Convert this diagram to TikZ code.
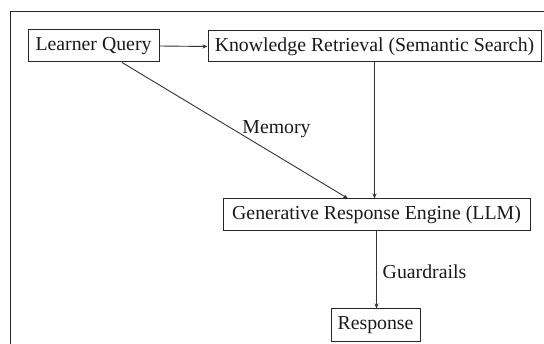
\documentclass[tikz,border=0pt]{standalone}
\usepackage{fontspec}
\setmainfont{Liberation Serif}
\usetikzlibrary{arrows.meta}
\begin{document}
\begin{tikzpicture}[x=1pt,y=-1pt,
  box/.style={draw=black!85,line width=1pt,inner sep=0pt,align=center,font=\fontsize{19.8}{22}\selectfont,text=black!90},
  conn/.style={draw=black!80,line width=0.9pt,-{Stealth[length=5pt,width=4pt]}},
  lbl/.style={font=\fontsize{19.8}{22}\selectfont,text=black!90,inner sep=0pt}]
\useasboundingbox (0,0) rectangle (544,344);
\draw[line width=1pt,black!85] (10.5,344) |- (544,12);
\node[box,minimum width=131pt,minimum height=32pt] (lq) at (93.5,46) {Learner Query};
\node[box,minimum width=333pt,minimum height=31pt] (kr) at (374.5,46.5) {Knowledge Retrieval (Semantic Search)};
\node[box,minimum width=307pt,minimum height=32pt] (gre) at (376.5,215) {Generative Response Engine (LLM)};
\node[box,minimum width=89pt,minimum height=33pt] (resp) at (375.5,325.5) {Response};
\draw[conn] (lq.east) -- (kr.west);
\draw[conn] ([xshift=28.5pt]lq.south) -- ([xshift=-28.5pt]gre.north);
\draw[conn] (kr.south) -- (kr.south |- gre.north);
\draw[conn] (gre.south) -- (gre.south |- resp.north);
\node[lbl] (mem) at (276.5,129) {Memory};
\node[lbl] (gr) at (424.5,272) {Guardrails};
\end{tikzpicture}
\end{document}
